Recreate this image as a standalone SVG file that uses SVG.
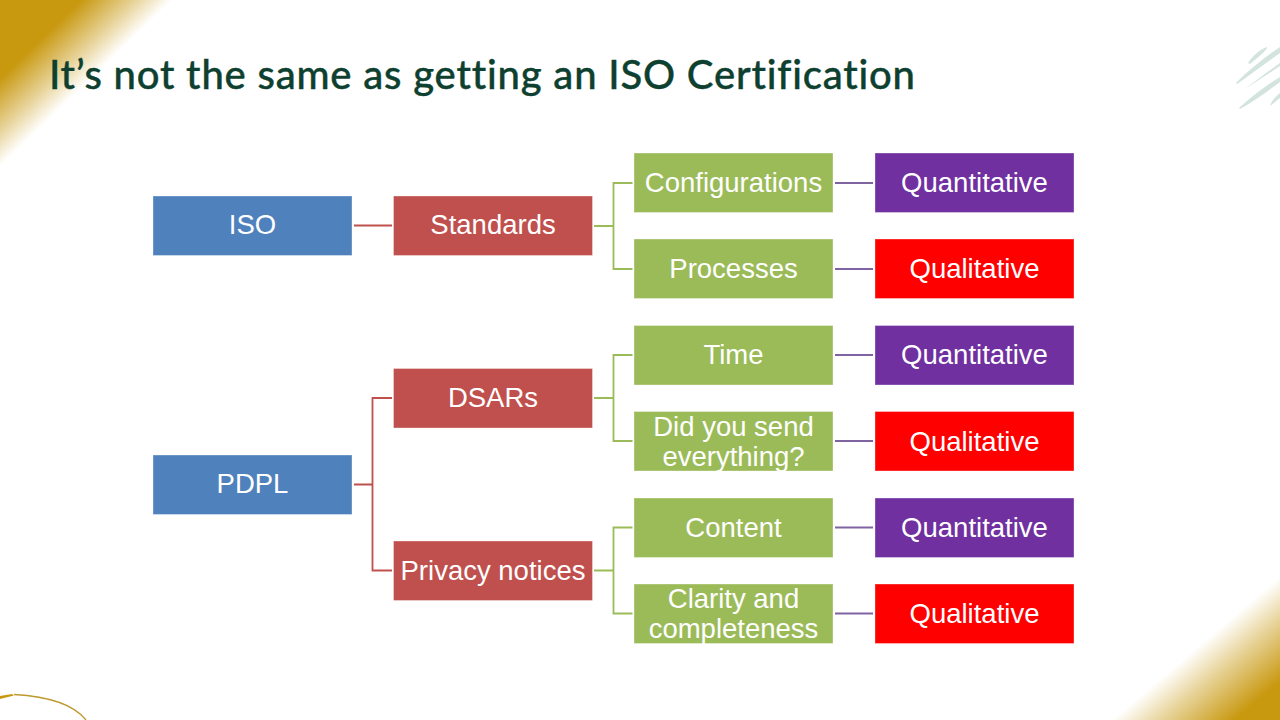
<svg xmlns="http://www.w3.org/2000/svg" width="1280" height="720" viewBox="0 0 1280 720">
<style>
.t{font-family:"Liberation Sans",Arial,sans-serif;font-size:27.5px;fill:#fff;text-anchor:middle}
.n{stroke:#fff;stroke-opacity:.35;stroke-width:1}
.blue{fill:#4F81BD}.red{fill:#C0504D}.green{fill:#9BBB59}.purple{fill:#7030A0}.bright{fill:#FF0000}
.c{fill:none;stroke-width:1.800}
.cr{stroke:#C0504D}.cg{stroke:#9BBB59}.cp{stroke:#8064A2}
.s{fill:#D3E4DE}
</style>
<defs>
<linearGradient id="g1" gradientUnits="userSpaceOnUse" x1="42" y1="38" x2="86" y2="83.500">
<stop offset="0" stop-color="#C8980F"/><stop offset=".6" stop-color="#C8980F" stop-opacity=".42"/><stop offset="1" stop-color="#C8980F" stop-opacity="0"/>
</linearGradient>
<linearGradient id="g2" gradientUnits="userSpaceOnUse" x1="1248" y1="709" x2="1196" y2="648">
<stop offset="0" stop-color="#C8980F"/><stop offset=".6" stop-color="#C8980F" stop-opacity=".42"/><stop offset="1" stop-color="#C8980F" stop-opacity="0"/>
</linearGradient>
</defs>
<rect width="1280" height="720" fill="#fff"/>
<polygon points="0,0 172,0 0,167" fill="url(#g1)"/>
<polygon points="1280,720 1113,720 1280,577" fill="url(#g2)"/>
<path d="M14,694.500 C40,696 72,702 86,720" fill="none" stroke="#BF9A2E" stroke-width="1.300"/>
<path d="M0,696 L12,694 L14,695.500 L0,699 Z" fill="#C8980F"/>
<g id="stripes">
<path class="s" d="M1248,63 C1253,55 1261,49 1267,47 C1268,49 1262,54 1250,64 Z"/>
<path class="s" d="M1236,83 C1250,69 1268,55 1280,47 L1280,53 C1266,63 1250,75 1237,84 Z"/>
<path class="s" d="M1245,89 C1258,79 1270,70 1280,63 L1280,66 C1268,74 1256,82 1245,89 Z"/>
<path class="s" d="M1239,108 C1252,96 1268,84 1280,77 L1280,82 C1268,91 1254,101 1240,109 Z"/>
<path class="s" d="M1270,106 C1272,100 1276,96 1280,93 L1280,98 C1277,100 1273,104 1270,106 Z"/>
</g>
<text id="title" x="49" y="89" font-family="Lato,'Noto Sans',sans-serif" font-size="40" font-weight="500" fill="#0E4030" stroke="#0E4030" stroke-width=".4" style="font-variant-ligatures:none" textLength="866" lengthAdjust="spacing">It’s not the same as getting an ISO Certification</text>
<g id="connectors">
<path class="c cr" d="M354,225.500 H392"/>
<path class="c cr" d="M354,484.500 H372.500 V398 H392 M372.500,484.500 V570.500 H392"/>
<path class="c cg" d="M594,226 H613.500 V183 H632.500 M613.500,226 V269 H632.500"/>
<path class="c cg" d="M594,398 H613.500 V355 H632.500 M613.500,398 V441 H632.500"/>
<path class="c cg" d="M594,570.500 H613.500 V527.500 H632.500 M613.500,570.500 V613.500 H632.500"/>
<path class="c cp" d="M835,183 H873 M835,269 H873 M835,355 H873 M835,441 H873 M835,527.500 H873 M835,613.500 H873"/>
</g>
<g id="iso"><rect class="n blue" x="153" y="196" width="199" height="59.500"/><text class="t" x="252.500" y="234">ISO</text></g>
<g id="pdpl"><rect class="n blue" x="153" y="455" width="199" height="59.500"/><text class="t" x="252.500" y="493">PDPL</text></g>
<g id="standards"><rect class="n red" x="393.500" y="196" width="199" height="59.500"/><text class="t" x="493" y="234">Standards</text></g>
<g id="dsars"><rect class="n red" x="393.500" y="368.500" width="199" height="59.500"/><text class="t" x="493" y="407">DSARs</text></g>
<g id="privacy"><rect class="n red" x="393.500" y="541" width="199" height="59.500"/><text class="t" x="493" y="580">Privacy notices</text></g>
<g id="configurations"><rect class="n green" x="634" y="153" width="199" height="59.500"/><text class="t" x="733.500" y="192">Configurations</text></g>
<g id="processes"><rect class="n green" x="634" y="239" width="199" height="59.500"/><text class="t" x="733.500" y="278">Processes</text></g>
<g id="time"><rect class="n green" x="634" y="325.500" width="199" height="59.500"/><text class="t" x="733.500" y="364">Time</text></g>
<g id="send"><rect class="n green" x="634" y="411.500" width="199" height="59.500"/><text class="t" x="733.500" y="436">Did you send</text><text class="t" x="733.500" y="466">everything?</text></g>
<g id="content"><rect class="n green" x="634" y="498" width="199" height="59.500"/><text class="t" x="733.500" y="537">Content</text></g>
<g id="clarity"><rect class="n green" x="634" y="584" width="199" height="59.500"/><text class="t" x="733.500" y="608">Clarity and</text><text class="t" x="733.500" y="638">completeness</text></g>
<g id="q1"><rect class="n purple" x="875" y="153" width="199" height="59.500"/><text class="t" x="974.500" y="192">Quantitative</text></g>
<g id="q2"><rect class="n bright" x="875" y="239" width="199" height="59.500"/><text class="t" x="974.500" y="278">Qualitative</text></g>
<g id="q3"><rect class="n purple" x="875" y="325.500" width="199" height="59.500"/><text class="t" x="974.500" y="364">Quantitative</text></g>
<g id="q4"><rect class="n bright" x="875" y="411.500" width="199" height="59.500"/><text class="t" x="974.500" y="450.500">Qualitative</text></g>
<g id="q5"><rect class="n purple" x="875" y="498" width="199" height="59.500"/><text class="t" x="974.500" y="537">Quantitative</text></g>
<g id="q6"><rect class="n bright" x="875" y="584" width="199" height="59.500"/><text class="t" x="974.500" y="623">Qualitative</text></g>
</svg>
